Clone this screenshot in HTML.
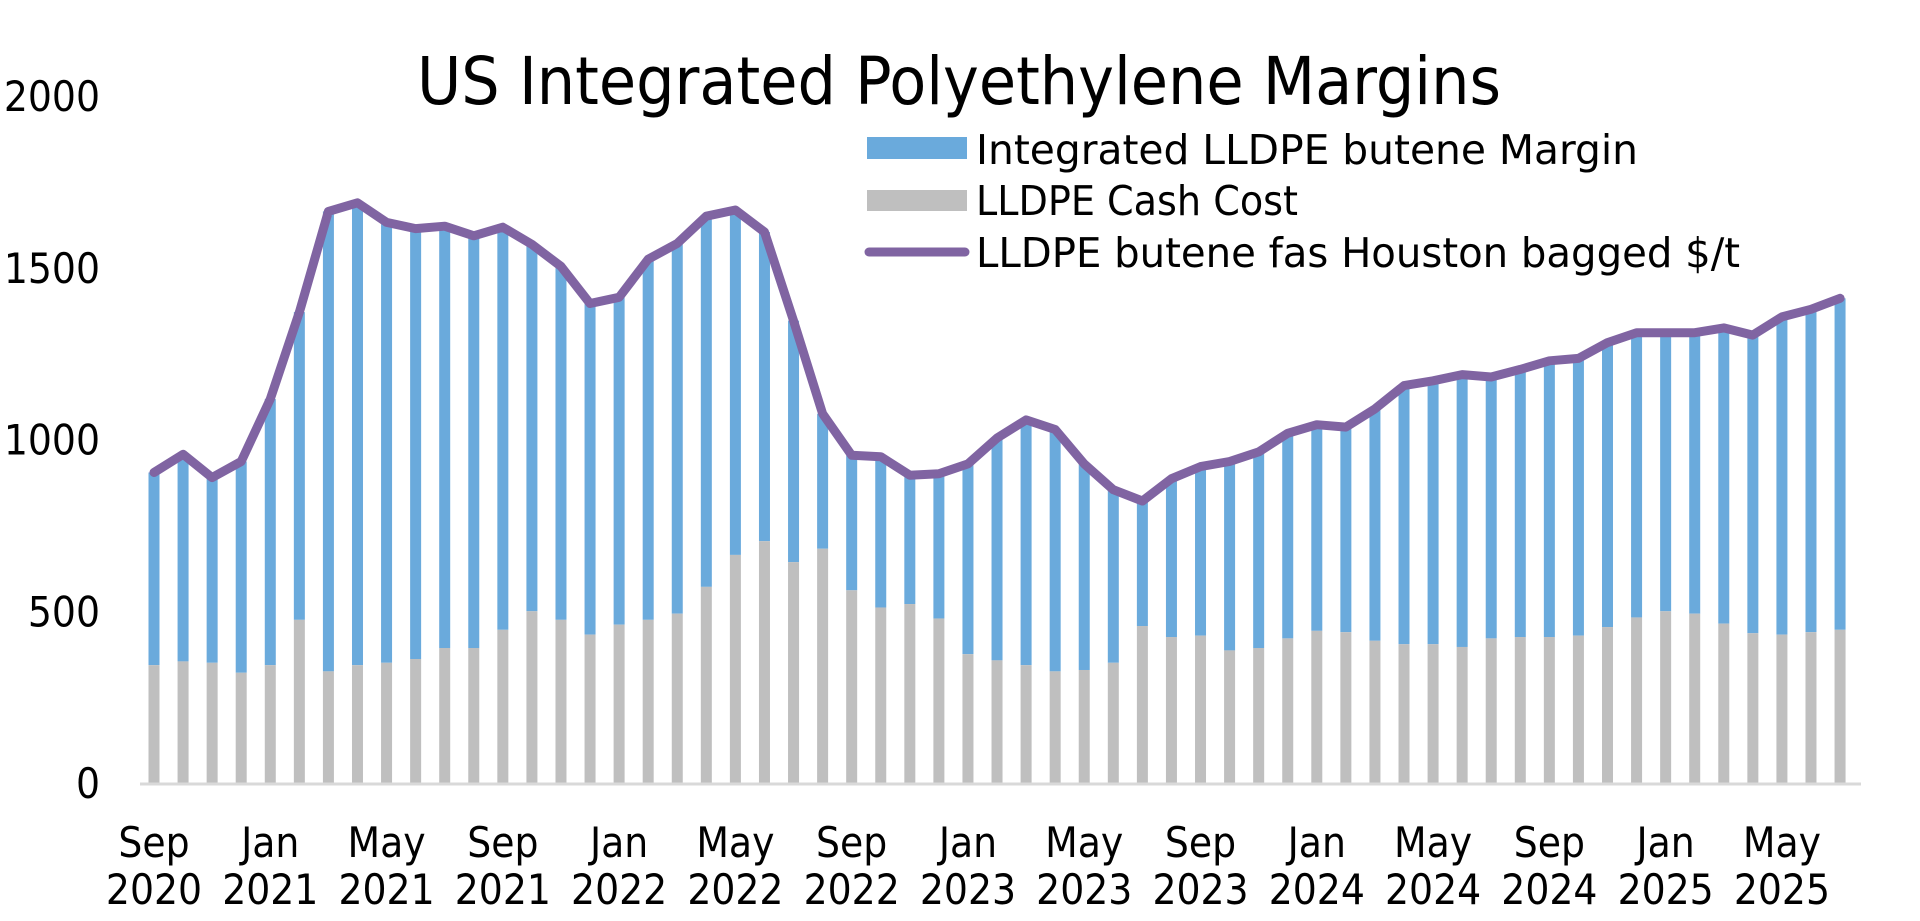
<!DOCTYPE html>
<html><head><meta charset="utf-8"><style>
html,body{margin:0;padding:0;background:#fff;}
svg{display:block;font-family:"DejaVu Sans Condensed","Liberation Sans",sans-serif;}
</style></head><body>
<svg id="c" width="1920" height="921" viewBox="0 0 1920 921" xmlns="http://www.w3.org/2000/svg">
<text x="959" y="104" font-size="66" text-anchor="middle" textLength="1084" lengthAdjust="spacingAndGlyphs">US Integrated Polyethylene Margins</text>
<rect x="867" y="137" width="100" height="22" fill="#6aaadc"/>
<rect x="867" y="190" width="100" height="21" fill="#bfbfbf"/>
<line x1="869" y1="252" x2="965" y2="252" stroke="#8064a2" stroke-width="9" stroke-linecap="round"/>
<g font-size="41">
<text x="976" y="164" textLength="662" lengthAdjust="spacingAndGlyphs">Integrated LLDPE butene Margin</text>
<text x="976" y="215" textLength="322" lengthAdjust="spacingAndGlyphs">LLDPE Cash Cost</text>
<text x="976" y="267" textLength="764" lengthAdjust="spacingAndGlyphs">LLDPE butene fas Houston bagged $/t</text>
</g>
<g id="bars"></g>
<line x1="140" y1="784" x2="1861" y2="784" stroke="#d9d9d9" stroke-width="3"/>
<polyline id="ln" fill="none" stroke="#8064a2" stroke-width="9" stroke-linejoin="round" stroke-linecap="round"/>
<g id="ax" font-size="42"></g>
</svg>
<script>
var P=[904,957,889,936,1118,1371,1664,1689,1632,1614,1621,1593,1618,1568,1504,1396,1414,1525,1571,1650,1668,1604,1346,1075,954,950,896,900,929,1004,1057,1029,929,854,821,886,921,936,964,1018,1043,1036,1089,1157,1171,1189,1182,1204,1229,1236,1282,1311,1311,1311,1325,1304,1357,1379,1411];
var C=[343,354,350,321,343,475,325,343,350,361,393,393,446,500,475,432,461,475,493,571,664,704,643,682,561,511,521,479,375,357,343,325,329,350,457,425,429,386,393,421,443,439,414,404,404,396,421,425,425,429,454,482,500,493,464,436,432,439,446];
var y0=783,k=0.3435,x0=154,dx=29.07,ns="http://www.w3.org/2000/svg";
function Y(v){return y0-v*k;}
var b=document.getElementById('bars'),pts=[];
for(var i=0;i<P.length;i++){
 var x=x0+i*dx;
 var r=document.createElementNS(ns,'rect');r.setAttribute('x',x-5.5);r.setAttribute('width',11);r.setAttribute('y',Y(P[i]));r.setAttribute('height',(P[i]-C[i])*k);r.setAttribute('fill','#6aaadc');b.appendChild(r);
 r=document.createElementNS(ns,'rect');r.setAttribute('x',x-5.5);r.setAttribute('width',11);r.setAttribute('y',Y(C[i]));r.setAttribute('height',C[i]*k);r.setAttribute('fill','#bfbfbf');b.appendChild(r);
 pts.push(x.toFixed(1)+','+Y(P[i]).toFixed(1));
}
document.getElementById('ln').setAttribute('points',pts.join(' '));
var ax=document.getElementById('ax'),h='';
[0,500,1000,1500,2000].forEach(function(v){h+='<text x="100" y="'+(Y(v)+15)+'" text-anchor="end">'+v+'</text>';});
var m=['Sep','Jan','May'],yr=2020;
for(var j=0;j<15;j++){var x=x0+j*4*dx;var mo=m[j%3];if(mo==='Jan')yr++;
 h+='<text x="'+x+'" y="857" text-anchor="middle">'+mo+'</text><text x="'+x+'" y="904" text-anchor="middle">'+yr+'</text>';}
ax.innerHTML=h;
</script>
</body></html>
